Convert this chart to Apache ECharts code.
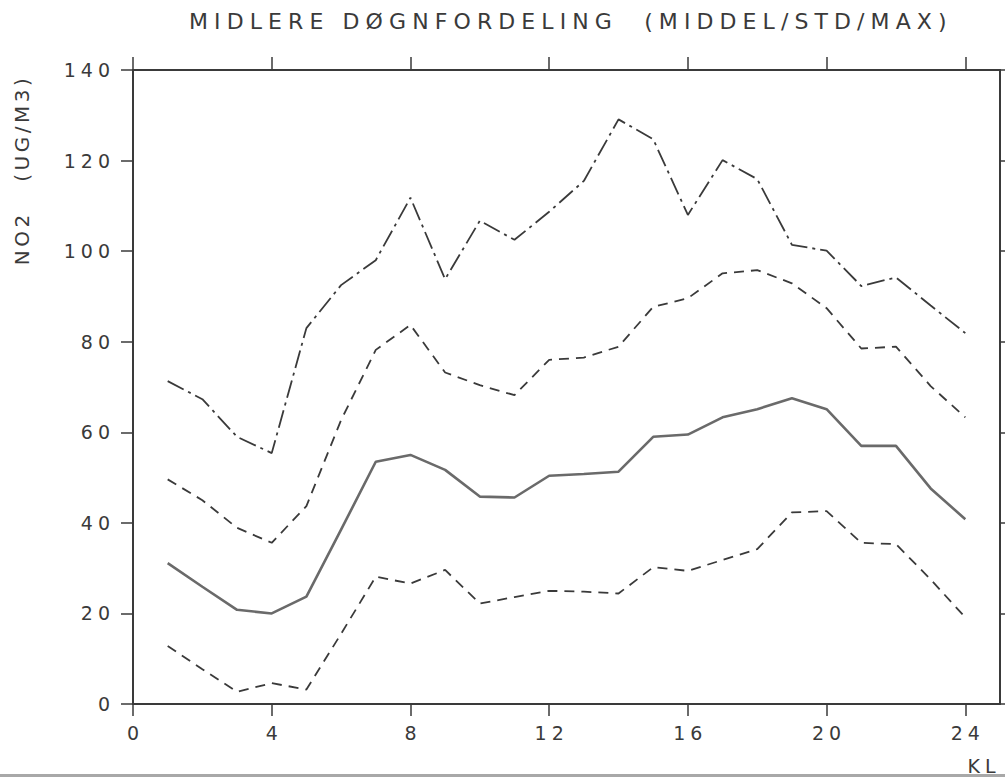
<!DOCTYPE html>
<html>
<head>
<meta charset="utf-8">
<script src="https://cdn.jsdelivr.net/npm/echarts@6/dist/echarts.min.js"></script>
<style>
  html, body { margin: 0; padding: 0; background: #fff; }
  #chart { width: 1005px; height: 777px; }
  /* plotter-style lettering: wide character pitch */
  #chart text { letter-spacing: 5px; }
  #chart text[style*="20px"] { letter-spacing: 3.5px; }
  #chart text[style*="22px"] { letter-spacing: 6.1px; }
</style>
</head>
<body>
<div id="chart"></div>
<script>
// Hour of day (KL)
const hours = [1, 2, 3, 4, 5, 6, 7, 8, 9, 10, 11, 12, 13, 14, 15, 16, 17, 18, 19, 20, 21, 22, 23, 24];
// NO2 (ug/m3): hourly maximum, mean +/- one standard deviation, mean
const maxVals  = [71.3, 67.3, 59.0, 55.4, 83.0, 92.5, 98.0, 111.8, 93.8, 106.7, 102.5, 108.7, 115.5, 129.1, 124.7, 108.0, 120.1, 115.9, 101.4, 100.1, 92.3, 94.2, 88.0, 81.9];
const stdHigh  = [49.6, 45.0, 38.9, 35.6, 43.7, 62.7, 78.2, 83.7, 73.2, 70.4, 68.2, 76.0, 76.5, 78.9, 87.7, 89.6, 95.1, 95.8, 92.9, 87.4, 78.5, 78.9, 70.2, 63.3];
const meanVals = [31.1, 25.9, 20.8, 20.0, 23.7, 38.5, 53.5, 55.0, 51.7, 45.8, 45.6, 50.4, 50.8, 51.3, 59.0, 59.5, 63.3, 65.1, 67.5, 65.1, 57.0, 57.0, 47.6, 40.8];
const stdLow   = [12.8, 7.7, 2.7, 4.6, 3.2, 15.5, 28.1, 26.6, 29.6, 22.2, 23.6, 25.0, 24.8, 24.4, 30.2, 29.4, 31.8, 34.2, 42.3, 42.6, 35.6, 35.3, 27.5, 19.1];
// Axis ticks
const xTicks = [0, 4, 8, 12, 16, 20, 24];
const yTicks = [0, 20, 40, 60, 80, 100, 120, 140];

const titleText = 'MIDLERE DØGNFORDELING  (MIDDEL/STD/MAX)';
const yName = 'NO2   (UG/M3)';
const xName = 'KL';

const FONT = 'DejaVu Sans';
const INK = '#3a3a3a';

const pairs = vals => hours.map((h, i) => [h, vals[i]]);

const frameLine = { show: true, onZero: false, lineStyle: { color: INK, width: 2 } };
const tickStyle = { color: INK, width: 1.5 };

const chart = echarts.init(document.getElementById('chart'), null, { renderer: 'svg' });

chart.setOption({
  animation: false,
  backgroundColor: '#ffffff',
  title: {
    text: titleText,
    left: 189,
    top: 10,
    padding: 0,
    textStyle: { fontFamily: FONT, fontSize: 22, fontWeight: 'normal', color: INK }
  },
  grid: { left: 133, right: 5, top: 70, bottom: 73 },
  xAxis: [
    {
      type: 'value', min: 0, max: 25, position: 'bottom',
      axisLine: frameLine, splitLine: { show: false },
      name: xName, nameLocation: 'end', nameGap: -16,
      nameTextStyle: { fontFamily: FONT, fontSize: 19, color: INK, align: 'center', verticalAlign: 'top', padding: [52, 0, 0, 0] },
      axisTick: { show: true, inside: false, length: 12, customValues: xTicks, lineStyle: tickStyle },
      axisLabel: { show: true, margin: 19, padding: [0, 0, 0, 5], customValues: xTicks, fontFamily: FONT, fontSize: 19, color: INK }
    },
    {
      type: 'value', min: 0, max: 25, position: 'top',
      axisLine: frameLine, splitLine: { show: false },
      axisTick: { show: true, inside: false, length: 13, customValues: xTicks, lineStyle: tickStyle },
      axisLabel: { show: false }
    }
  ],
  yAxis: [
    {
      type: 'value', min: 0, max: 140, interval: 20, position: 'left',
      axisLine: frameLine, splitLine: { show: false },
      axisTick: { show: true, inside: false, length: 12, customValues: yTicks, lineStyle: tickStyle },
      axisLabel: { show: true, margin: 18, customValues: yTicks, fontFamily: FONT, fontSize: 19, color: INK }
    },
    {
      type: 'value', min: 0, max: 140, interval: 20, position: 'right',
      axisLine: frameLine, splitLine: { show: false },
      axisTick: { show: true, inside: false, length: 12, customValues: yTicks, lineStyle: tickStyle },
      axisLabel: { show: false }
    }
  ],
  graphic: [
    {
      type: 'text',
      x: 22, y: 170,
      rotation: Math.PI / 2,
      style: {
        text: yName, fontFamily: FONT, fontSize: 20, fill: INK,
        align: 'center', verticalAlign: 'middle'
      }
    },
    {
      type: 'rect',
      shape: { x: 0, y: 774, width: 1005, height: 3 },
      style: { fill: '#a8a8a8' }
    }
  ],
  series: [
    {
      name: 'MAX', type: 'line', data: pairs(maxVals), showSymbol: false, symbol: 'none',
      lineStyle: { color: INK, width: 1.8, type: [18, 5, 3, 5] }
    },
    {
      name: 'STD+', type: 'line', data: pairs(stdHigh), showSymbol: false, symbol: 'none',
      lineStyle: { color: INK, width: 1.8, type: [10, 7] }
    },
    {
      name: 'MIDDEL', type: 'line', data: pairs(meanVals), showSymbol: false, symbol: 'none',
      lineStyle: { color: '#6a6a6a', width: 2.6, type: 'solid' }
    },
    {
      name: 'STD-', type: 'line', data: pairs(stdLow), showSymbol: false, symbol: 'none',
      lineStyle: { color: INK, width: 1.8, type: [10, 7] }
    }
  ]
});
</script>
</body>
</html>
